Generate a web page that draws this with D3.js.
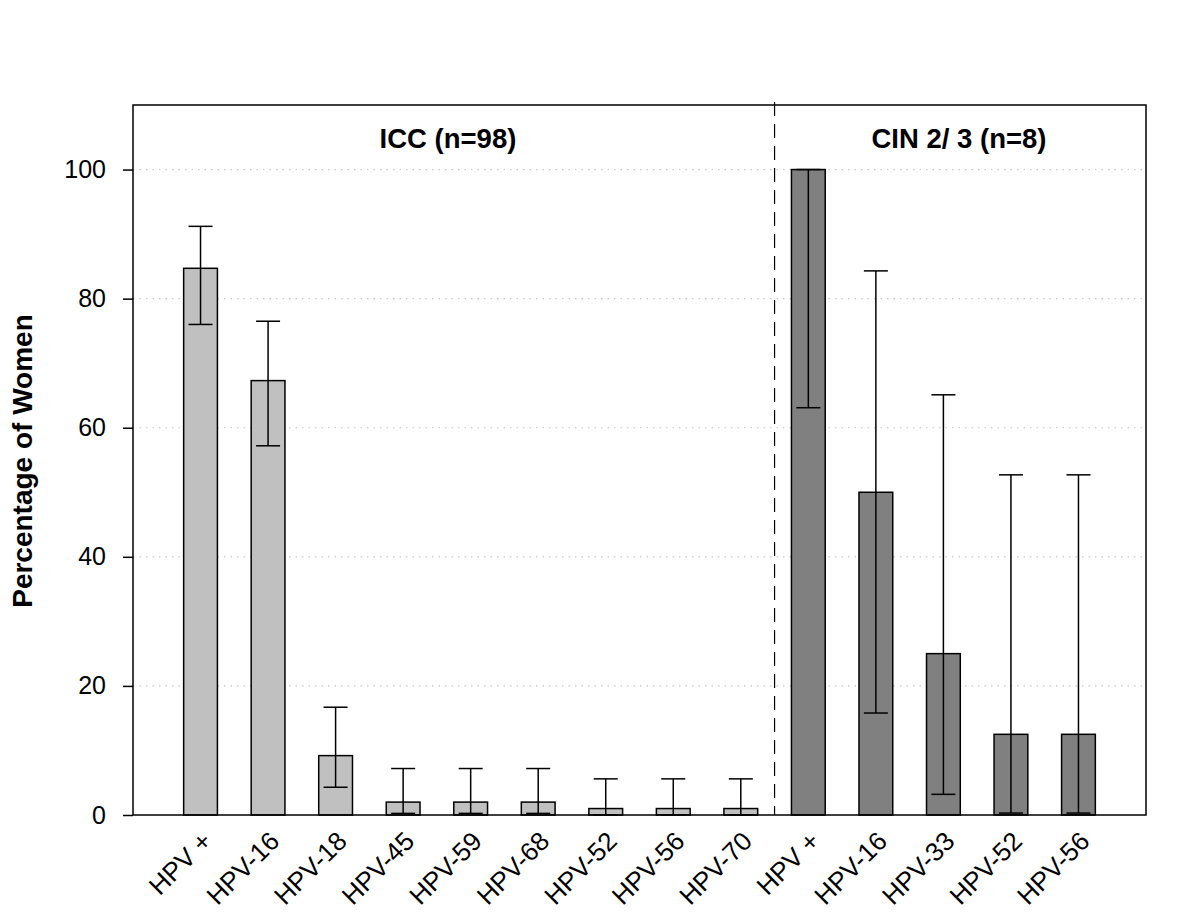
<!DOCTYPE html>
<html><head><meta charset="utf-8">
<script src="https://cdn.jsdelivr.net/npm/d3@7"></script>
<style>body{margin:0;background:#fff}</style>
</head><body>
<script>
const categories = ["HPV +","HPV-16","HPV-18","HPV-45","HPV-59","HPV-68","HPV-52","HPV-56","HPV-70","HPV +","HPV-16","HPV-33","HPV-52","HPV-56"];
const groups = ["ICC","ICC","ICC","ICC","ICC","ICC","ICC","ICC","ICC","CIN","CIN","CIN","CIN","CIN"];
const values = [84.7,67.3,9.2,2.0,2.0,2.0,1.0,1.0,1.0,100,50,25,12.5,12.5];
const lower = [76.0,57.2,4.3,0.25,0.25,0.25,0.03,0.03,0.03,63.1,15.8,3.2,0.3,0.3];
const upper = [91.2,76.5,16.7,7.2,7.2,7.2,5.6,5.6,5.6,100,84.3,65.1,52.7,52.7];
const yTicks = [0,20,40,60,80,100];
const panelTitles = ["ICC (n=98)","CIN 2/ 3 (n=8)"];

const W=1200,H=921;
const m={l:133,r:1146,t:105,b:815};
const svg=d3.select("body").append("svg").attr("width",W).attr("height",H);
const x=d3.scaleLinear().domain([0,15]).range([m.l,m.r]);
const y=d3.scaleLinear().domain([0,110]).range([m.b,m.t]);
const step=x(1)-x(0), bw=step*0.5;
const font="Liberation Sans, Arial, sans-serif";

// grid
svg.append("g").selectAll("line").data(yTicks.filter(d=>d>0)).join("line")
 .attr("x1",m.l).attr("x2",m.r).attr("y1",d=>y(d)).attr("y2",d=>y(d))
 .attr("stroke","#c8c8c8").attr("stroke-width",1.2).attr("stroke-dasharray","1.5,5");

// bars
const idx=d3.range(values.length);
svg.append("g").selectAll("rect").data(idx).join("rect")
 .attr("x",i=>x(i+1)-bw/2).attr("width",bw)
 .attr("y",i=>y(values[i])).attr("height",i=>y(0)-y(values[i]))
 .attr("fill",i=>groups[i]==="ICC"?"#c0c0c0":"#808080")
 .attr("stroke","#000").attr("stroke-width",1.5);

// error bars
const eg=svg.append("g").attr("stroke","#000").attr("stroke-width",1.5);
idx.forEach(i=>{
  const cx=x(i+1), cw=12;
  eg.append("line").attr("x1",cx).attr("x2",cx).attr("y1",y(lower[i])).attr("y2",y(upper[i]));
  eg.append("line").attr("x1",cx-cw).attr("x2",cx+cw).attr("y1",y(upper[i])).attr("y2",y(upper[i]));
  eg.append("line").attr("x1",cx-cw).attr("x2",cx+cw).attr("y1",y(lower[i])).attr("y2",y(lower[i]));
});

// divider
svg.append("line").attr("x1",x(9.5)).attr("x2",x(9.5)).attr("y1",m.t-3).attr("y2",m.b)
 .attr("stroke","#000").attr("stroke-width",1.2).attr("stroke-dasharray","14,8");

// frame
svg.append("rect").attr("x",m.l).attr("y",m.t).attr("width",m.r-m.l).attr("height",m.b-m.t)
 .attr("fill","none").attr("stroke","#000").attr("stroke-width",1.5);

// y axis
const ya=svg.append("g").attr("transform",`translate(${m.l},0)`)
 .call(d3.axisLeft(y).tickValues(yTicks).tickSize(10).tickSizeOuter(0).tickPadding(17));
ya.select(".domain").remove();
ya.selectAll("line").attr("stroke","#000").attr("stroke-width",1.5);
ya.selectAll("text").attr("font-family",font).attr("font-size",25).attr("fill","#000");

// x labels
svg.append("g").selectAll("text").data(idx).join("text")
 .attr("transform",i=>`translate(${x(i+1)+8},${m.b+23}) rotate(-45)`)
 .attr("text-anchor","end").attr("dominant-baseline","middle")
 .attr("font-family",font).attr("font-size",26).attr("fill","#000")
 .text(i=>categories[i]);

// panel titles
svg.append("text").attr("x",448).attr("y",148).attr("text-anchor","middle")
 .attr("font-family",font).attr("font-weight","bold").attr("font-size",27.5).text(panelTitles[0]);
svg.append("text").attr("x",959).attr("y",148).attr("text-anchor","middle")
 .attr("font-family",font).attr("font-weight","bold").attr("font-size",27.5).text(panelTitles[1]);

// y label
svg.append("text").attr("transform",`translate(32,${461}) rotate(-90)`)
 .attr("text-anchor","middle").attr("font-family",font).attr("font-weight","bold").attr("font-size",28)
 .text("Percentage of Women");
</script>
</body></html>
